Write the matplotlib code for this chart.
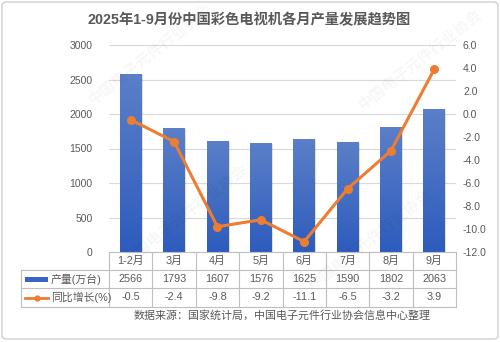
import numpy as np
import matplotlib.pyplot as plt
from matplotlib.patches import Rectangle, FancyBboxPatch
from matplotlib.lines import Line2D

plt.rcParams['font.family'] = ['Liberation Sans', 'Noto Sans CJK SC', 'DejaVu Sans']

months = ['1-2月', '3月', '4月', '5月', '6月', '7月', '8月', '9月']
output = [2566, 1793, 1607, 1576, 1625, 1590, 1802, 2063]
yoy = [-0.5, -2.4, -9.8, -9.2, -11.1, -6.5, -3.2, 3.9]
left_ticks = [0, 500, 1000, 1500, 2000, 2500, 3000]
right_ticks = [-12.0, -10.0, -8.0, -6.0, -4.0, -2.0, 0.0, 2.0, 4.0, 6.0]
row_labels = ['产量(万台)', '同比增长(%)']
title = '2025年1-9月份中国彩色电视机各月产量发展趋势图'
source = '数据来源：国家统计局，中国电子元件行业协会信息中心整理'

W, H = 500, 342
fig = plt.figure(figsize=(W / 100, H / 100), dpi=100)
txt = '#595959'
grid = '#d9d9d9'
blue_top = np.array([0x5b, 0x7f, 0xc8]) / 255
blue_bot = np.array([0x2e, 0x5c, 0xbd]) / 255
orange = '#ed7d31'


def fx(px):
    return px / W


def fy(py):
    return 1 - py / H


# outer frame
fig.patches.append(FancyBboxPatch((fx(2), fy(339)), fx(496), 337 / H,
                                  boxstyle='round,pad=0,rounding_size=0.01',
                                  transform=fig.transFigure, fill=False,
                                  edgecolor='#d0d0d0', lw=1))

# faint watermarks
for (wx, wy) in [(150, 55), (185, 215), (370, 240), (420, 60)]:
    fig.text(fx(wx), fy(wy), '中国电子元件行业协会', fontsize=11, color='#000000',
             alpha=0.035, rotation=38, ha='center', va='center', fontweight='bold')

x0, x1, yb, yt = 109, 456, 252, 45
ax = fig.add_axes([fx(x0), fy(yb), fx(x1 - x0), (yb - yt) / H])
ax2 = ax.twinx()

n = len(months)
x = np.arange(n)
ax.set_yticks(left_ticks)
ax.set_yticklabels([str(t) for t in left_ticks])
ax.yaxis.grid(True, color=grid, lw=0.8)
ax.set_axisbelow(True)
ax.set_xticks([])

# vertical gradient for the bars
img = np.zeros((256, 1, 3))
for i in range(3):
    img[:, 0, i] = blue_bot[i] + (blue_top[i] - blue_bot[i]) * np.linspace(0, 1, 256)
bw = 0.5
for xi, v in zip(x, output):
    # soft shadow
    ax.add_patch(Rectangle((xi - bw / 2 + 0.03, 0), bw, v - 8, color='#000000',
                           alpha=0.12, lw=0, zorder=1))
    ax.imshow(img, extent=(xi - bw / 2, xi + bw / 2, 0, v), origin='lower',
              aspect='auto', zorder=2)
ax.set_xlim(-0.5, n - 0.5)
ax.set_ylim(0, 3000)

ax2.set_ylim(-12, 6)
ax2.set_yticks(right_ticks)
ax2.set_yticklabels([f'{t:.1f}' for t in right_ticks])
ax2.plot(x, yoy, color=orange, lw=2.2, marker='o', ms=5.5, zorder=5)

for a in (ax, ax2):
    for s in a.spines.values():
        s.set_visible(False)
    a.tick_params(axis='y', length=0, labelsize=7.5, labelcolor=txt)
ax.tick_params(axis='y', pad=12)
ax2.tick_params(axis='y', pad=5)

# data table below the plot
rows_y = [252, 270, 288, 307]
tl = 21
col_w = (x1 - x0) / n
line_kw = dict(color='#bfbfbf', lw=0.8, transform=fig.transFigure)
fig.add_artist(Line2D([fx(x0), fx(x1)], [fy(rows_y[0])] * 2, **line_kw))
for ry in rows_y[1:]:
    fig.add_artist(Line2D([fx(tl), fx(x1)], [fy(ry)] * 2, **line_kw))
fig.add_artist(Line2D([fx(tl), fx(tl)], [fy(rows_y[1]), fy(rows_y[3])], **line_kw))
for i in range(n + 1):
    cx = x0 + i * col_w
    fig.add_artist(Line2D([fx(cx), fx(cx)], [fy(rows_y[0]), fy(rows_y[3])], **line_kw))

fs = 7.8
for i in range(n):
    cx = x0 + (i + 0.5) * col_w
    fig.text(fx(cx), fy((rows_y[0] + rows_y[1]) / 2), months[i], ha='center',
             va='center', fontsize=fs, color=txt)
    fig.text(fx(cx), fy((rows_y[1] + rows_y[2]) / 2), str(output[i]), ha='center',
             va='center', fontsize=fs, color=txt)
    fig.text(fx(cx), fy((rows_y[2] + rows_y[3]) / 2), f'{yoy[i]:.1f}', ha='center',
             va='center', fontsize=fs, color=txt)

# legend keys inside the table
ym1 = (rows_y[1] + rows_y[2]) / 2
ym2 = (rows_y[2] + rows_y[3]) / 2
fig.patches.append(Rectangle((fx(25), fy(ym1 + 2.5)), fx(23), 5 / H,
                             transform=fig.transFigure, color='#3864c2', lw=0))
fig.add_artist(Line2D([fx(25), fx(48)], [fy(ym2)] * 2, color=orange, lw=2,
                      transform=fig.transFigure))
fig.add_artist(Line2D([fx(36.5)], [fy(ym2)], color=orange, marker='o', ms=3.5,
                      transform=fig.transFigure))
fig.text(fx(51), fy(ym1), row_labels[0], ha='left', va='center', fontsize=fs, color=txt)
fig.text(fx(51), fy(ym2), row_labels[1], ha='left', va='center', fontsize=fs, color=txt)

fig.text(fx(282), fy(315), source, ha='center', va='center', fontsize=7.9, color=txt)
fig.text(fx(249), fy(20), title, ha='center', va='center', fontsize=10.3,
         color=txt, fontweight='bold')

fig.savefig('out.png', dpi=100)
